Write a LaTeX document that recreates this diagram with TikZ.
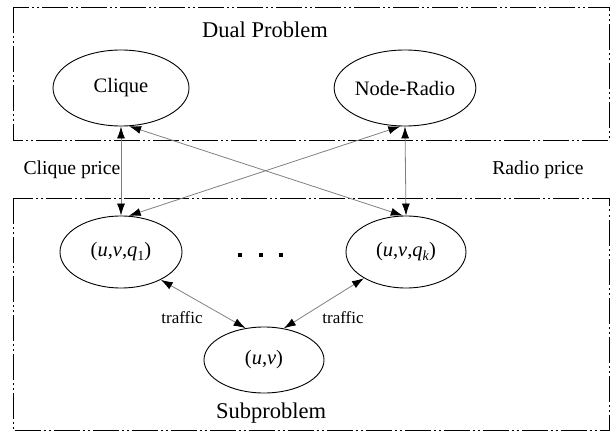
\documentclass[tikz,border=0pt]{standalone}
\usepackage{fontspec}
\setmainfont{Liberation Serif}
\usetikzlibrary{shapes.geometric,arrows.meta}
\begin{document}
\begin{tikzpicture}[x=1pt,y=-1pt,
  frame/.style={line width=0.9pt, dash pattern=on 26pt off 3pt on 2pt off 3pt on 2pt off 3pt},
  oval/.style={ellipse, draw, line width=0.9pt, inner sep=0pt, font=\fontsize{20.5}{24}\selectfont},
  title/.style={inner sep=0pt, font=\fontsize{22.5}{26}\selectfont},
  price/.style={inner sep=0pt, font=\fontsize{19.7}{23}\selectfont},
  traf/.style={inner sep=0pt, font=\fontsize{17}{20}\selectfont},
  link/.style={draw=gray, line width=0.8pt, {Latex[length=12pt,width=8pt,black]}-{Latex[length=12pt,width=8pt,black]}}]
\useasboundingbox (0,0) rectangle (611,433);
\draw[frame] (13,7) rectangle (609.5,140);
\draw[frame] (13,198) rectangle (609.5,430.5);
\node[title] (dual) at (265,30) {Dual Problem};
\node[title] (sub) at (271,413) {Subproblem};
\node[oval, minimum width=136pt, minimum height=76pt] (clique) at (121,88) {Clique};
\node[oval, minimum width=126pt, minimum height=76pt] (nr) at (405,88) {Node-Radio};
\node[oval, minimum width=122pt, minimum height=72pt] (q1) at (121,252) {(\textit{u},\textit{v},\textit{q}\raisebox{-0.35ex}{\fontsize{14}{16}\selectfont 1})};
\node[oval, minimum width=120pt, minimum height=72pt] (qk) at (406,252) {(\textit{u},\textit{v},\textit{q}\raisebox{-0.35ex}{\fontsize{14}{16}\selectfont\textit{k}})};
\node[oval, minimum width=120pt, minimum height=66pt] (uv) at (264,360) {(\textit{u},\textit{v})};
\node[price] (cp) at (72,170) {Clique price};
\node[price] (rp) at (538,170) {Radio price};
\node[traf] (t1) at (182,318) {traffic};
\node[traf] (t2) at (343,318) {traffic};
\fill (238,253) rectangle (242,257);
\fill (259,253) rectangle (263,257);
\fill (279,253) rectangle (283,257);
\draw[link] (clique.south) -- (q1.north);
\draw[link] (nr.south) -- (qk.north);
\draw[link] (clique.-78) -- (qk.95);
\draw[link] (nr.-97) -- (q1.78);
\draw[link] (q1.-35) -- (uv.120);
\draw[link] (qk.-148) -- (uv.58);
\end{tikzpicture}
\end{document}
